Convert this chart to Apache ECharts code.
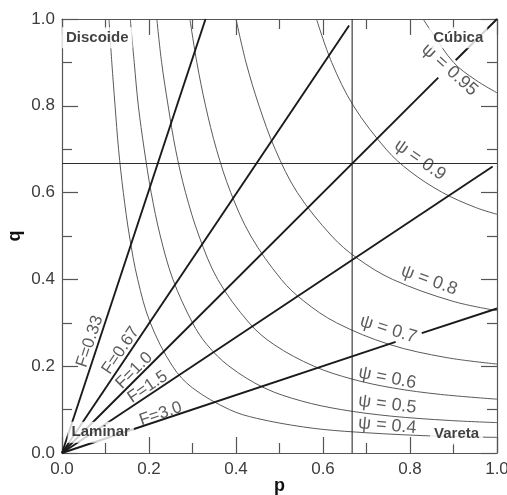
<!DOCTYPE html>
<html>
<head>
<meta charset="utf-8">
<script src="https://cdn.jsdelivr.net/npm/echarts@6/dist/echarts.min.js"></script>
<style>
  html, body { margin: 0; padding: 0; background: #ffffff; }
  #chart { width: 507px; height: 495px; }
</style>
</head>
<body>
<div id="chart"></div>
<script>
// Sphericity isolines (psi), as [p, q] pairs
const psi095 = [[0.83, 1.0], [0.85, 0.97], [0.9, 0.9], [0.95, 0.86], [1.0, 0.83]];
const psi09 = [[0.585, 1.0], [0.62, 0.9], [0.67, 0.8], [0.745, 0.7], [0.8, 0.649], [0.875, 0.6], [0.95, 0.566], [1.0, 0.55]];
const psi08 = [[0.40, 1.0], [0.423, 0.9], [0.453, 0.8], [0.49, 0.7], [0.541, 0.6], [0.62, 0.5], [0.677, 0.45], [0.76, 0.4], [0.897, 0.35], [1.0, 0.328]];
const psi07 = [[0.294, 1.0], [0.31, 0.9], [0.33, 0.8], [0.355, 0.7], [0.388, 0.6], [0.434, 0.5], [0.504, 0.4], [0.556, 0.35], [0.631, 0.3], [0.753, 0.25], [0.883, 0.22], [1.0, 0.205]];
const psi06 = [[0.218, 1.0], [0.229, 0.9], [0.244, 0.8], [0.261, 0.7], [0.284, 0.6], [0.315, 0.5], [0.358, 0.4], [0.43, 0.3], [0.487, 0.25], [0.579, 0.2], [0.668, 0.17], [0.76, 0.15], [0.87, 0.135], [1.0, 0.124]];
const psi05 = [[0.157, 1.0], [0.166, 0.9], [0.1755, 0.8], [0.189, 0.7], [0.205, 0.6], [0.226, 0.5], [0.255, 0.4], [0.3, 0.3], [0.333, 0.25], [0.384, 0.2], [0.465, 0.15], [0.55, 0.12], [0.642, 0.1], [0.756, 0.085], [0.89, 0.075], [1.0, 0.07]];
const psi04 = [[0.108, 1.0], [0.1145, 0.9], [0.122, 0.8], [0.13, 0.7], [0.141, 0.6], [0.155, 0.5], [0.174, 0.4], [0.203, 0.3], [0.254, 0.2], [0.3, 0.15], [0.385, 0.1], [0.447, 0.08], [0.555, 0.06], [0.65, 0.05], [0.83, 0.04], [1.0, 0.036]];

// Shape-factor rays F = p / q from the origin, split where a label sits on them
const fRay033 = [[[0, 0], [0.33, 1.0]]];
const fRay067 = [[[0, 0], [0.66, 0.985]]];
const fRay10 = [[[0, 0], [0.865, 0.865]], [[0.905, 0.905], [1.0, 1.0]]];
const fRay15 = [[[0, 0], [0.99, 0.66]]];
const fRay30 = [[[0, 0], [0.767, 0.256]], [[0.827, 0.276], [1.0, 0.333]]];

// Class boundaries at p = 2/3 and q = 2/3
const qBoundary = [[0, 0.667], [1, 0.667]];
const pBoundary = [[0.667, 0], [0.667, 1]];

// Texts
const fLabelText = ['F=0.33', 'F=0.67', 'F=1.0', 'F=1.5', 'F=3.0'];
const psiLabelText = ['\u03C8 = 0.95', '\u03C8 = 0.9', '\u03C8 = 0.8', '\u03C8 = 0.7', '\u03C8 = 0.6', '\u03C8 = 0.5', '\u03C8 = 0.4'];
const classText = ['Discoide', 'C\u00FAbica', 'Laminar', 'Vareta'];

// Where each text sits: [p, q, rotation in degrees]
const fLabelAt = [[0.064, 0.257, 72], [0.135, 0.236, 56], [0.166, 0.19, 45], [0.197, 0.152, 34], [0.227, 0.090, 19]];
const psiLabelAt = [[0.891, 0.883, -42], [0.823, 0.675, -35], [0.844, 0.398, -20], [0.750, 0.285, -17], [0.748, 0.173, -11], [0.748, 0.112, -7], [0.748, 0.063, -5]];
const classAt = [[0.081, 0.957], [0.911, 0.957], [0.089, 0.048], [0.907, 0.044]];

const FONT = '"Liberation Sans", Arial, sans-serif';

function plainLine(data, width, color, smooth, z) {
  return {
    type: 'line', data: data, symbol: 'none', smooth: smooth,
    lineStyle: { width: width, color: color },
    silent: true, animation: false, z: z
  };
}

const series = [];
[psi095, psi09, psi08, psi07, psi06, psi05, psi04].forEach(c => series.push(plainLine(c, 1, '#5a5a5a', 0.35, 2)));
series.push(plainLine(qBoundary, 1.1, '#2e2e2e', false, 3));
series.push(plainLine(pBoundary, 1.1, '#2e2e2e', false, 3));
[fRay033, fRay067, fRay10, fRay15, fRay30].forEach(ray => ray.forEach(seg => series.push(plainLine(seg, 1.9, '#1a1a1a', false, 4))));

series.push({
  type: 'scatter', symbolSize: 0, silent: true, animation: false, z: 10,
  data: fLabelText.map((t, i) => ({
    value: [fLabelAt[i][0], fLabelAt[i][1]],
    label: { show: true, position: 'inside', formatter: t, rotate: fLabelAt[i][2], fontSize: 17, color: '#333', fontFamily: FONT }
  }))
});
series.push({
  type: 'scatter', symbolSize: 0, silent: true, animation: false, z: 10,
  data: psiLabelText.map((t, i) => ({
    value: [psiLabelAt[i][0], psiLabelAt[i][1]],
    label: { show: true, position: 'inside', formatter: t, rotate: psiLabelAt[i][2], fontSize: 18, color: '#333', fontFamily: FONT }
  }))
});
series.push({
  type: 'scatter', symbolSize: 0, silent: true, animation: false, z: 11,
  data: classText.map((t, i) => ({
    value: [classAt[i][0], classAt[i][1]],
    label: {
      show: true, position: 'inside', formatter: t, fontSize: 15, fontWeight: 'bold', color: '#111',
      fontFamily: FONT, backgroundColor: '#ffffff', padding: [3, 4]
    }
  }))
});

const axisColor = '#555555';
function valueAxis(extra) {
  return Object.assign({
    type: 'value', min: 0, max: 1, interval: 0.2,
    axisLine: { show: true, onZero: false, lineStyle: { color: axisColor, width: 1.2 } },
    axisTick: { show: true, inside: true, length: 16, lineStyle: { color: axisColor, width: 1.2 } },
    minorTick: { show: true, splitNumber: 2, length: 10, lineStyle: { color: axisColor, width: 1.2 } },
    splitLine: { show: false },
    minorSplitLine: { show: false },
    axisLabel: { show: false }
  }, extra);
}
const tickLabel = { show: true, fontSize: 17, color: '#3c3c3c', fontFamily: FONT, formatter: v => v.toFixed(1) };

const chart = echarts.init(document.getElementById('chart'), null, { renderer: 'canvas' });
chart.setOption({
  backgroundColor: '#ffffff',
  animation: false,
  grid: { left: 62, right: 10, top: 19, bottom: 42, outerBoundsMode: 'none' },
  xAxis: [
    valueAxis({ position: 'bottom', axisLabel: Object.assign({ margin: 8 }, tickLabel),
      name: 'p', nameLocation: 'middle', nameGap: 24, nameMoveOverlap: false,
      nameTextStyle: { fontSize: 18, fontWeight: 'bold', color: '#111', fontFamily: FONT } }),
    valueAxis({ position: 'top' })
  ],
  yAxis: [
    valueAxis({ position: 'left', axisLabel: Object.assign({ margin: 7 }, tickLabel),
      name: 'q', nameLocation: 'middle', nameGap: 38, nameMoveOverlap: false,
      nameTextStyle: { fontSize: 18, fontWeight: 'bold', color: '#111', fontFamily: FONT } }),
    valueAxis({ position: 'right' })
  ],
  series: series
});
</script>
</body>
</html>
